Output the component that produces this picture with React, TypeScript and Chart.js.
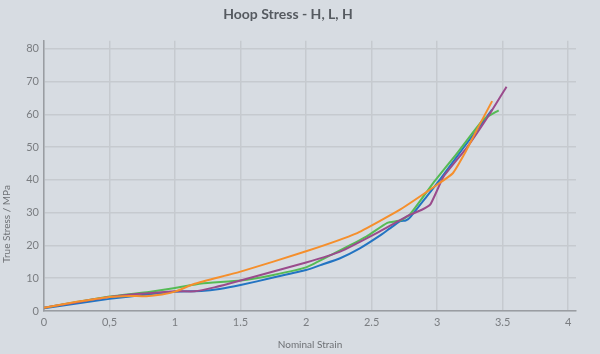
import React, { useEffect, useRef } from "react";
import { Chart, registerables } from "chart.js";

Chart.register(...registerables);

const TITLE = "Hoop Stress - H, L, H";
const X_TITLE = "Nominal Strain";
const Y_TITLE = "True Stress / MPa";

const X_TICKS = [0, 0.5, 1, 1.5, 2, 2.5, 3, 3.5, 4];
const X_TICK_LABELS = ["0", "0,5", "1", "1.5", "2", "2.5", "3", "3.5", "4"];
const Y_TICKS = [0, 10, 20, 30, 40, 50, 60, 70, 80];

const orangeX = [0, 0.25, 0.5, 0.65, 0.78, 0.9, 1.0, 1.15, 1.5, 2.0, 2.38, 2.72, 3.0, 3.12, 3.21, 3.3, 3.42];
const orangeY = [1, 2.8, 4.3, 4.6, 4.5, 5.0, 5.9, 8.3, 12, 18.2, 23.6, 31, 38.5, 42, 48, 55, 64];

const purpleX = [0, 0.5, 1.0, 1.15, 1.3, 1.5, 2.0, 2.26, 2.56, 2.79, 2.88, 2.95, 3.05, 3.23, 3.4, 3.53];
const purpleY = [1, 4.3, 6.0, 6.0, 7.2, 9.3, 14.8, 18.1, 24.2, 29.3, 30.8, 32.6, 41, 50, 60, 68.4];

const greenX = [0, 0.5, 0.8, 1.0, 1.2, 1.5, 1.75, 2.0, 2.21, 2.46, 2.62, 2.72, 2.79, 2.97, 3.15, 3.35, 3.47];
const greenY = [1, 4.4, 5.8, 7.0, 8.4, 9.3, 11, 13.3, 17.5, 22.7, 26.9, 27.6, 29.3, 39, 48, 58.3, 61.2];

const blueX = [0, 0.5, 1.0, 1.2, 1.34, 1.5, 1.75, 2.0, 2.11, 2.26, 2.41, 2.56, 2.64, 2.72, 2.76, 2.79, 2.92, 3.02, 3.2, 3.42];
const blueY = [0.8, 3.7, 5.9, 6.1, 6.7, 7.9, 10.2, 12.5, 14, 16.1, 19.1, 22.9, 25.2, 27.4, 27.6, 28.4, 34.9, 40, 49.7, 61.4];

const SERIES = [
  { name: "Sample 1", xs: orangeX, ys: orangeY, color: "#f58f2c" },
  { name: "Sample 2", xs: purpleX, ys: purpleY, color: "#9a4b8c" },
  { name: "Sample 3", xs: greenX, ys: greenY, color: "#55bb55" },
  { name: "Sample 4", xs: blueX, ys: blueY, color: "#2374c2" },
];

const BG = "#d7dce2";
const FONT = "Lato, 'Open Sans', sans-serif";

const yTitlePlugin = {
  id: "yTitlePlugin",
  afterDraw(chart: any) {
    const ctx = chart.ctx;
    ctx.save();
    ctx.translate(7, 224);
    ctx.rotate(-Math.PI / 2);
    ctx.font = `10px ${FONT}`;
    ctx.fillStyle = "#6e7175";
    ctx.textAlign = "center";
    ctx.textBaseline = "middle";
    ctx.fillText(Y_TITLE, 0, 0);
    ctx.restore();
  },
};

export default function App() {
  const ref = useRef<HTMLCanvasElement>(null);

  useEffect(() => {
    document.body.style.margin = "0";
    document.body.style.background = BG;
    const canvas = ref.current;
    if (!canvas) return;
    const chart = new Chart(canvas, {
      type: "line",
      data: {
        datasets: SERIES.map((s) => ({
          label: s.name,
          data: s.xs.map((x, i) => ({ x, y: s.ys[i] })),
          borderColor: s.color,
          backgroundColor: s.color,
          borderWidth: 2,
          pointRadius: 0,
          tension: 0.15,
          fill: false,
        })),
      },
      options: {
        responsive: false,
        animation: false,
        layout: { padding: { left: 0, right: 24, top: 0, bottom: 0 } },
        plugins: {
          legend: { display: false },
          tooltip: { enabled: false },
          title: {
            display: true,
            text: TITLE,
            color: "#555a60",
            font: { family: FONT, size: 14, weight: "bold" },
            padding: { top: 6, bottom: 18 },
          },
        },
        scales: {
          x: {
            type: "linear",
            min: 0,
            max: 4.06,
            afterBuildTicks: (scale: any) => {
              scale.ticks = X_TICKS.map((v) => ({ value: v }));
            },
            afterFit: (scale: any) => {
              scale.height = 43;
            },
            ticks: {
              color: "#7a7d81",
              font: { family: FONT, size: 11 },
              padding: 5,
              maxRotation: 0,
              autoSkip: false,
              callback: (v: any) => {
                const i = X_TICKS.indexOf(Number(v));
                return i >= 0 ? X_TICK_LABELS[i] : "";
              },
            },
            grid: { color: "#c6cacf", lineWidth: 1.5, drawTicks: false },
            border: { color: "#9a9da2", width: 1.5 },
            title: {
              display: true,
              text: X_TITLE,
              color: "#6e7175",
              font: { family: FONT, size: 10 },
              padding: { top: 0, bottom: 3 },
            },
          },
          y: {
            type: "linear",
            min: 0,
            max: 82.4,
            afterBuildTicks: (scale: any) => {
              scale.ticks = Y_TICKS.map((v) => ({ value: v }));
            },
            afterFit: (scale: any) => {
              scale.width = 44;
            },
            ticks: {
              color: "#7a7d81",
              font: { family: FONT, size: 11 },
              padding: 5,
              callback: (v: any) => String(v),
            },
            grid: { color: "#c6cacf", lineWidth: 1.5, drawTicks: false },
            border: { color: "#9a9da2", width: 1.5 },
          },
        },
      },
      plugins: [yTitlePlugin],
    });
    return () => chart.destroy();
  }, []);

  return (
    <div style={{ width: 600, height: 354, background: BG }}>
      <canvas ref={ref} width={600} height={354} style={{ display: "block" }} />
    </div>
  );
}
